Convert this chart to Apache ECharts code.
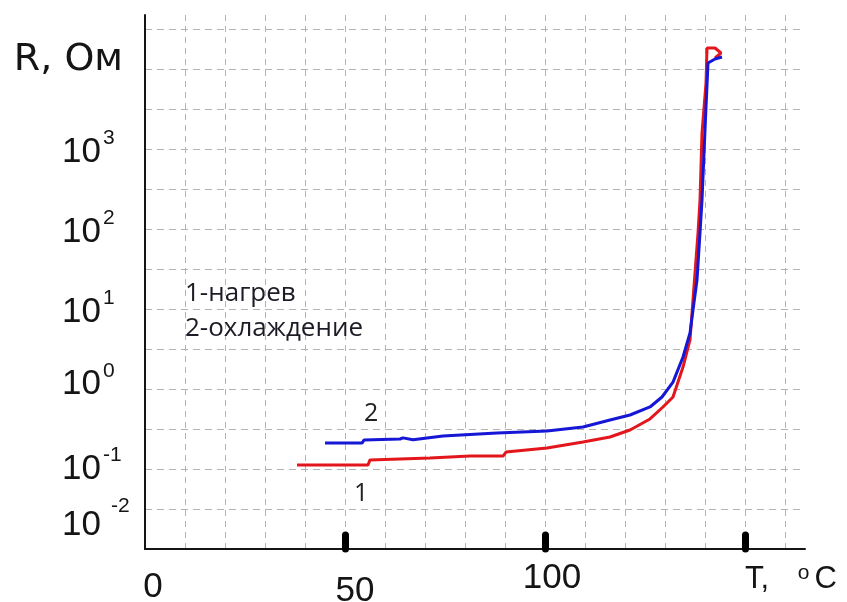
<!DOCTYPE html>
<html>
<head>
<meta charset="utf-8">
<script src="https://cdn.jsdelivr.net/npm/echarts@6/dist/echarts.min.js"></script>
<style>
html, body { margin: 0; padding: 0; background: #ffffff; }
#chart { width: 847px; height: 602px; }
</style>
</head>
<body>
<div id="chart"></div>
<script>
// ---- data (T in °C, R in Ohm) ----
// curve 1: heating
const heatT = [38, 55.75, 56.25, 71.25, 81.25, 89.5, 90.25, 100.5, 109.5, 116.25, 121.25, 126.25, 129.5, 132, 134.5, 136.25, 137, 137.5, 138.25, 138.75, 139.25, 140.25, 140.5, 142.5, 144, 142.5];
const heatR = [0.112, 0.112, 0.130, 0.137, 0.145, 0.145, 0.163, 0.183, 0.218, 0.251, 0.307, 0.422, 0.596, 0.794, 1.88, 4.10, 13.0, 28.2, 89.1, 230, 1585, 6683, 18301, 18301, 15849, 13725];
// curve 2: cooling
const coolT = [45, 54.25, 54.75, 63.75, 64.5, 65, 67, 67.5, 74.5, 88, 100.5, 109.5, 116.25, 121.25, 126.25, 129.25, 132, 134.5, 136.25, 137, 138, 138.75, 139.25, 140, 140.75, 142.5, 144.25];
const coolR = [0.211, 0.211, 0.230, 0.237, 0.245, 0.232, 0.232, 0.245, 0.259, 0.282, 0.299, 0.335, 0.410, 0.473, 0.596, 0.794, 1.22, 2.51, 5.01, 9.72, 23.0, 89.1, 230, 1728, 11885, 13335, 14125];

// axis ticks / labels
const xTickValues = [50, 100, 150];
const xLabelValues = [0, 50, 100];
const yLabelExponents = [-2, -1, 0, 1, 2, 3];
const legendLines = ['1-нагрев', '2-охлаждение'];
const curveNames = ['1', '2'];
const yAxisName = 'R, Ом';
const xAxisNameParts = ['T, ', 'o', 'C'];

// ---- chart ----
const chart = echarts.init(document.getElementById('chart'), null, { renderer: 'canvas' });

const gridColor = '#b3b3b3';
const tickFont = 'Liberation Sans, Arial, sans-serif';
const noteFont = 'Open Sans, Noto Sans, sans-serif';
const ink = '#151515';

const heatData = heatT.map((t, i) => [t, heatR[i]]);
const coolData = coolT.map((t, i) => [t, coolR[i]]);

const xLabelStyle = { 0: 'a', 50: 'b', 100: 'c' };

// per-label vertical nudges for the y tick labels (spacer lines above / below)
function yLabelText(r) {
  const core = (r === -2 ? '{m2|10}{e2|' : '{m|10}{e|') + r + '}';
  if (r === -2) return core + '\n{s47| }';
  if (r === 0) return core + '\n{s9| }';
  if (r === -1) return core;
  return '{s6| }\n' + core;
}

const option = {
  animation: false,
  backgroundColor: '#ffffff',
  title: [
    {
      text: legendLines.join('\n'),
      left: 185, top: 276, padding: 0,
      textStyle: { fontFamily: noteFont, fontSize: 26, fontWeight: 'normal', color: '#1c1c26', lineHeight: 35 }
    },
    {
      text: curveNames[1],
      left: 364, top: 401, padding: 0,
      textStyle: { fontFamily: noteFont, fontSize: 25, fontWeight: 'normal', color: '#222', lineHeight: 25 }
    },
    {
      text: curveNames[0],
      left: 354, top: 481, padding: 0,
      textStyle: { fontFamily: noteFont, fontSize: 25, fontWeight: 'normal', color: '#222', lineHeight: 25 }
    }
  ],
  grid: { left: 145, right: 42, top: 15, bottom: 53, containLabel: false, outerBoundsMode: 'none' },
  xAxis: [
    {
      type: 'value', min: 0, max: 165, interval: 10, position: 'bottom',
      axisLine: { show: true, onZero: false, lineStyle: { color: ink, width: 2 } },
      axisTick: { show: false },
      axisLabel: { show: false },
      splitLine: { show: true, showMinLine: false, showMaxLine: false,
        lineStyle: { color: gridColor, width: 1, type: [6, 5] } },
      name: '{t|' + xAxisNameParts[0] + '}{o|' + xAxisNameParts[1] + '}{c|' + xAxisNameParts[2] + '}',
      nameLocation: 'end',
      nameGap: -60,
      nameMoveOverlap: false,
      nameTextStyle: {
        align: 'left', verticalAlign: 'top', padding: [14, 0, 0, 0],
        rich: {
          t: { fontFamily: tickFont, fontSize: 31, lineHeight: 32, color: ink },
          o: { fontFamily: tickFont, fontSize: 21, verticalAlign: 'top', color: ink, padding: [0, 0, 0, 20] },
          c: { fontFamily: tickFont, fontSize: 31, lineHeight: 32, color: ink, padding: [0, 0, 0, 5] }
        }
      }
    },
    {
      type: 'value', min: 0, max: 165, position: 'bottom',
      axisLine: { show: false, onZero: false },
      splitLine: { show: false },
      axisTick: {
        show: true, inside: true, length: 14, customValues: xTickValues,
        lineStyle: { color: '#000', width: 7, cap: 'round' }
      },
      axisLabel: {
        show: true, margin: 6, customValues: xLabelValues,
        formatter: function (v) { return '{' + (xLabelStyle[v] || 'c') + '|' + v + '}'; },
        rich: {
          a: { fontFamily: tickFont, fontSize: 35, lineHeight: 36, color: ink, padding: [28, 0, 0, 16] },
          b: { fontFamily: tickFont, fontSize: 35, lineHeight: 36, color: ink, padding: [36, 0, 0, 20] },
          c: { fontFamily: tickFont, fontSize: 35, lineHeight: 36, color: ink, padding: [10, 0, 0, 14] }
        }
      }
    }
  ],
  yAxis: [
    {
      type: 'log', logBase: 10, min: 0.01, max: Math.pow(10, 4.675),
      axisLine: { show: true, lineStyle: { color: ink, width: 2 } },
      axisTick: { show: false },
      splitLine: { show: false },
      minorSplitLine: { show: false },
      axisLabel: {
        show: true, align: 'left', margin: 83,
        showMaxLabel: false,
        formatter: function (v) {
          const e = Math.log10(v);
          const r = Math.round(e);
          if (Math.abs(e - r) > 1e-6 || yLabelExponents.indexOf(r) < 0) return '';
          return yLabelText(r);
        },
        rich: {
          m: { fontFamily: tickFont, fontSize: 35, lineHeight: 48, color: ink },
          m2: { fontFamily: tickFont, fontSize: 35, lineHeight: 60, color: ink },
          e: { fontFamily: tickFont, fontSize: 21, verticalAlign: 'top', color: ink, padding: [0, 0, 0, 2] },
          e2: { fontFamily: tickFont, fontSize: 21, verticalAlign: 'top', color: ink, padding: [0, 0, 0, 10] },
          s47: { fontSize: 10, lineHeight: 47 },
          s9: { fontSize: 9, lineHeight: 9 },
          s6: { fontSize: 6, lineHeight: 6 }
        }
      },
      name: yAxisName,
      nameLocation: 'end',
      nameGap: -45,
      nameMoveOverlap: false,
      nameTextStyle: {
        align: 'right', verticalAlign: 'middle', padding: [0, 22, 0, 0],
        fontFamily: 'DejaVu Sans, sans-serif', fontSize: 38, color: ink
      }
    },
    {
      type: 'value', min: -2, max: 4.675, interval: 0.5, position: 'right',
      axisLine: { show: false, onZero: false }, axisTick: { show: false }, axisLabel: { show: false },
      splitLine: { show: true, showMinLine: false, showMaxLine: false,
        lineStyle: { color: gridColor, width: 1, type: [7, 5] } }
    }
  ],
  series: [
    {
      name: '1-нагрев', type: 'line', xAxisIndex: 0, yAxisIndex: 0,
      data: heatData, showSymbol: false, smooth: false,
      lineStyle: { color: '#e3161b', width: 3 }, z: 3
    },
    {
      name: '2-охлаждение', type: 'line', xAxisIndex: 0, yAxisIndex: 0,
      data: coolData, showSymbol: false, smooth: false,
      lineStyle: { color: '#1616d6', width: 3 }, z: 4
    }
  ]
};

chart.setOption(option);
</script>
</body>
</html>
